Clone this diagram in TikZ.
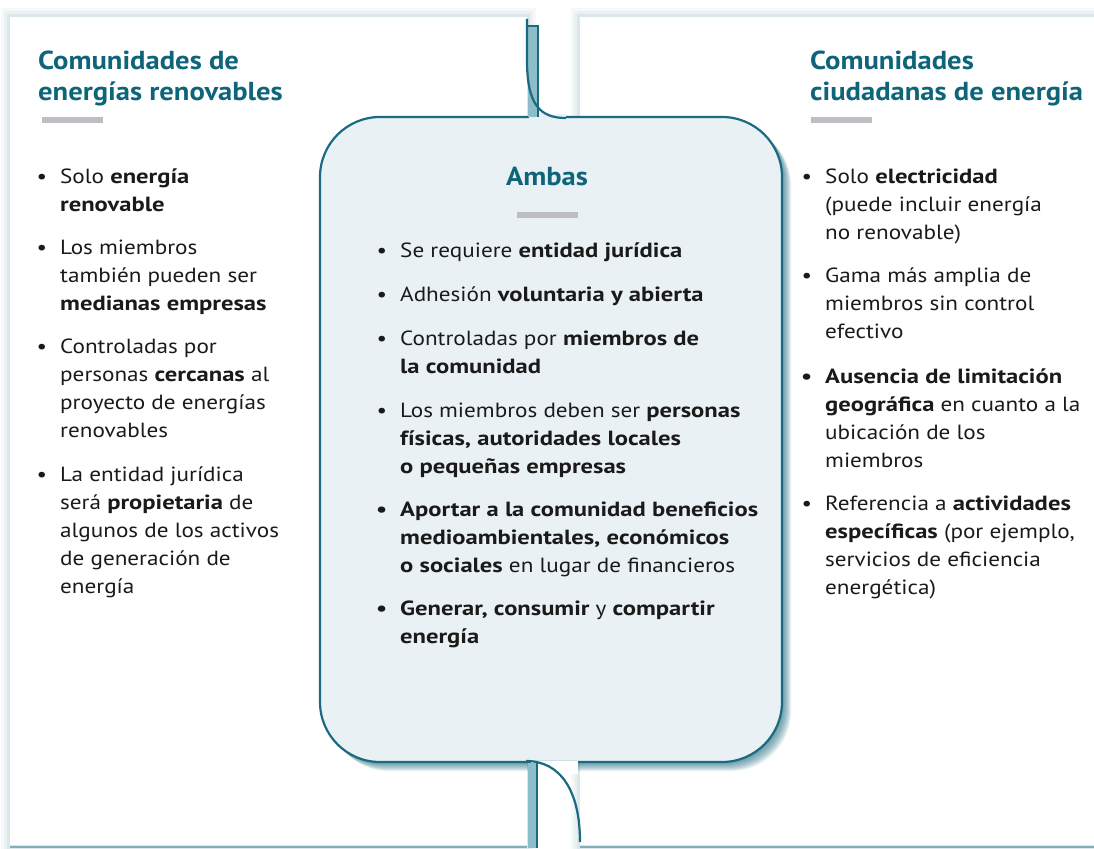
\documentclass[tikz,border=0pt]{standalone}
\usepackage{fontspec}
\setmainfont{PT Sans}[FakeStretch=1.13,BoldFeatures={FakeStretch=1.2}]
\newfontfamily\fuentetitulo{PT Sans}[FakeStretch=1.1,BoldFeatures={FakeStretch=1.1}]
\definecolor{petroleo}{HTML}{0E6479}
\definecolor{borde}{HTML}{1B6A7F}
\definecolor{relleno}{HTML}{E9F1F4}
\definecolor{barra}{HTML}{BDBDC2}
\definecolor{franja}{HTML}{8CBDC8}
\definecolor{tinta}{HTML}{1A1A1A}
\newcommand{\punto}{\strut\llap{\textbullet\hskip 13pt}}
\newcommand{\puntob}{\strut\llap{\textbf{\textbullet}\hskip 13pt}}
\begin{document}
\begin{tikzpicture}
	[x=1pt,y=-1pt,
	titulo/.style={anchor=north west,align=left,inner sep=0pt,text=petroleo,font=\fuentetitulo\fontsize{26}{31}\selectfont\bfseries},
	punto/.style={anchor=north west,align=left,inner sep=0pt,text=tinta,font=\fontsize{20.5}{28}\selectfont},
	raya/.style={fill=barra,draw=none},
	panel/.style={fill=white,draw=none},
	linea/.style={draw=borde,line width=2.2pt}]
	\useasboundingbox (0,0) rectangle (1094,848);
	\fill[white] (0,0) rectangle (1094,848);
	\foreach \r/\o in {9/0.04,6/0.05,3/0.07}{
		\fill[borde,opacity=\o] (10-\r,17-\r) rectangle (527+\r,852);
		\fill[borde,opacity=\o] (580-\r,17-\r) rectangle (1100,852);
	}
	\fill[panel] (10,17) rectangle (527,845);
	\fill[panel] (580,17) rectangle (1100,845);
	\fill[borde!55] (10,845.5) rectangle (527,848);
	\fill[borde!55] (580,845.5) rectangle (1100,848);
	\foreach \k in {1,...,9}
		\fill[borde,opacity=0.1,rounded corners=60pt] (320+\k,117+\k) rectangle (782+\k,762+\k);
	\draw[linea,fill=relleno,rounded corners=60pt] (320,117) rectangle (782,762);
	\fill[relleno] (529,114) rectangle (566,121);
	\fill[franja] (528,26) rectangle (538,117);
	\draw[borde,line width=1.6pt] (528,26) -- (538,26) -- (538,117);
	\draw[linea] (527,19) -- (527,60) .. controls (527,105) and (540,118) .. (566,118);
	\fill[white] (531,760.6) rectangle (578,774);
	\fill[franja] (528,763) rectangle (536,848);
	\draw[borde,line width=1.6pt] (537,763) -- (537,848);
	\draw[linea] (526,761) .. controls (560,761) and (580,790) .. (580,842);
	\node[titulo,name=tizq]at(38,48){\strut Comunidades de\\energías renovables};
	\fill[raya] (42,117) rectangle (103,123);
	\node[titulo,name=tder]at(810,48){\strut Comunidades\\ciudadanas de energía};
	\fill[raya] (811,117) rectangle (872,123);
	\node[titulo,anchor=base,name=tcen]at(547,185){Ambas};
	\fill[raya] (517,212) rectangle (578,218);
	\node[punto,name=i1]at(60,164){\punto Solo \textbf{energía}\\\textbf{renovable}};
	\node[punto,name=i2]at(60,235){\punto Los miembros\\también pueden ser\\\textbf{medianas empresas}};
	\node[punto,name=i3]at(60,334){\punto Controladas por\\personas \textbf{cercanas} al\\proyecto de energías\\renovables};
	\node[punto,name=i4]at(60,462){\punto La entidad jurídica\\será \textbf{propietaria} de\\algunos de los activos\\de generación de\\energía};
	\node[punto,name=c1]at(400,238){\punto Se requiere \textbf{entidad jurídica}};
	\node[punto,name=c2]at(400,282){\punto Adhesión \textbf{voluntaria y abierta}};
	\node[punto,name=c3]at(400,326){\punto Controladas por \textbf{miembros de}\\\textbf{la comunidad}};
	\node[punto,name=c4]at(400,398){\punto Los miembros deben ser \textbf{personas}\\\textbf{físicas, autoridades locales}\\\textbf{o pequeñas empresas}};
	\node[punto,name=c5]at(400,497){\puntob\textbf{Aportar a la comunidad beneficios}\\\textbf{medioambientales, económicos}\\\textbf{o sociales} en lugar de financieros};
	\node[punto,name=c6]at(400,596){\puntob\textbf{Generar, consumir} y \textbf{compartir}\\\textbf{energía}};
	\node[punto,name=d1]at(825,164){\punto Solo \textbf{electricidad}\\(puede incluir energía\\no renovable)};
	\node[punto,name=d2]at(825,263){\punto Gama más amplia de\\miembros sin control\\efectivo};
	\node[punto,name=d3]at(825,364){\puntob\textbf{Ausencia de limitación}\\\textbf{geográfica} en cuanto a la\\ubicación de los\\miembros};
	\node[punto,name=d4]at(825,491){\punto Referencia a \textbf{actividades}\\\textbf{específicas} (por ejemplo,\\servicios de eficiencia\\energética)};
\end{tikzpicture}
\end{document}
